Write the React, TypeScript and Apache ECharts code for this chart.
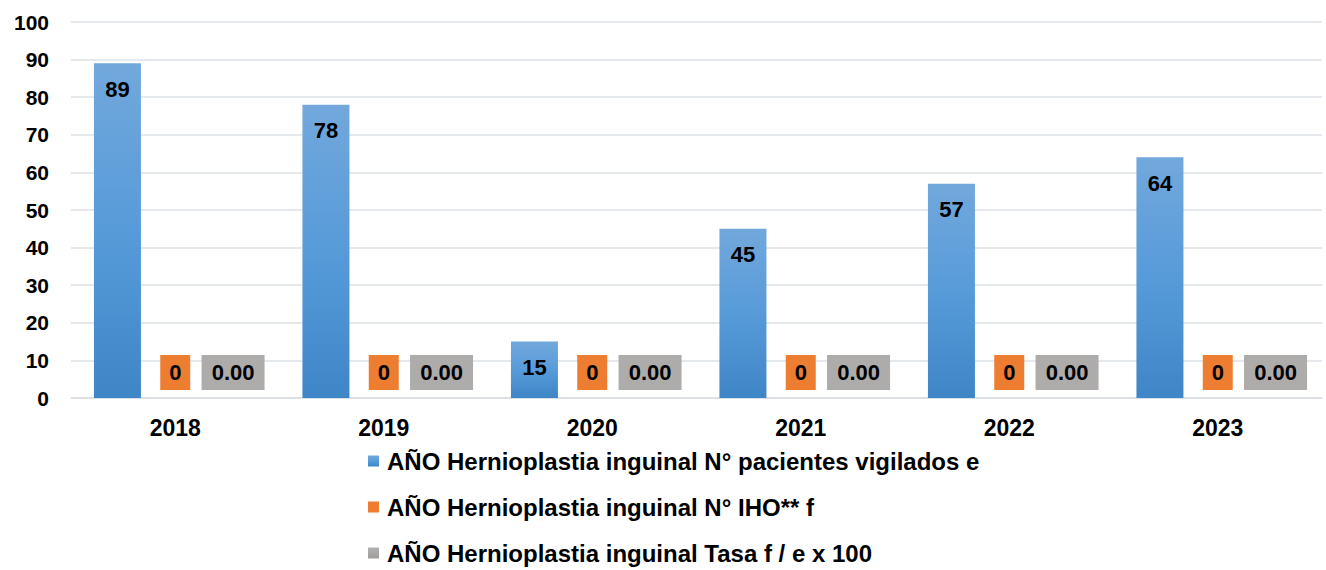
import React, { useEffect, useRef } from "react";
import * as echarts from "echarts";

const categories = ["2018", "2019", "2020", "2021", "2022", "2023"];
const pacientesVigilados = [89, 78, 15, 45, 57, 64];
const numeroIHO = [0, 0, 0, 0, 0, 0];
const tasa = [0, 0, 0, 0, 0, 0];
const seriesNames = [
  "AÑO Hernioplastia inguinal N° pacientes vigilados e",
  "AÑO Hernioplastia inguinal N° IHO** f",
  "AÑO Hernioplastia inguinal Tasa f / e x 100",
];

const FONT = "'Liberation Sans', Arial, sans-serif";

export default function App() {
  const ref = useRef<HTMLDivElement>(null);
  useEffect(() => {
    if (!ref.current) return;
    const chart = echarts.init(ref.current, null, { renderer: "svg" });
    const blue = new echarts.graphic.LinearGradient(0, 0, 0, 1, [
      { offset: 0, color: "#72a8dc" },
      { offset: 0.5, color: "#579bd9" },
      { offset: 1, color: "#3f86c7" },
    ]);
    const grayGrad = new echarts.graphic.LinearGradient(0, 0, 0, 1, [
      { offset: 0, color: "#b4b1b1" },
      { offset: 1, color: "#9e9b9b" },
    ]);
    chart.setOption({
      animation: false,
      textStyle: { fontFamily: FONT },
      grid: { left: 71, right: 4, top: 22, bottom: 172 },
      legend: {
        orient: "vertical",
        left: 368,
        top: 449,
        padding: 0,
        itemWidth: 11,
        itemHeight: 11,
        itemGap: 22,
        icon: "rect",
        textStyle: {
          fontFamily: FONT,
          fontWeight: "bold",
          fontSize: 24,
          color: "#000",
          lineHeight: 24,
          padding: [0, 0, 0, 3],
        },
        data: seriesNames,
      },
      xAxis: {
        type: "category",
        data: categories,
        axisLine: { lineStyle: { color: "#d9dde3", width: 1.5 } },
        axisTick: { show: false },
        axisLabel: { fontFamily: FONT, fontWeight: "bold", fontSize: 23, color: "#000", margin: 18 },
      },
      yAxis: {
        type: "value",
        min: 0,
        max: 100,
        interval: 10,
        axisLine: { show: false },
        axisTick: { show: false },
        splitLine: { lineStyle: { color: "#dde1e7", width: 1.5 } },
        axisLabel: { fontFamily: FONT, fontWeight: "bold", fontSize: 21, color: "#000", margin: 22 },
      },
      series: [
        {
          name: seriesNames[0],
          type: "bar",
          data: pacientesVigilados,
          barWidth: 47,
          barGap: "23%",
          itemStyle: { color: blue },
          label: {
            show: true,
            position: "insideTop",
            distance: 15,
            fontFamily: FONT,
            fontWeight: "bold",
            fontSize: 22,
            color: "#000",
          },
        },
        {
          name: seriesNames[1],
          type: "bar",
          data: numeroIHO,
          barWidth: 47,
          barGap: "23%",
          itemStyle: { color: "#ed7d31" },
          label: {
            show: true,
            position: "top",
            distance: 8,
            fontFamily: FONT,
            fontWeight: "bold",
            fontSize: 22,
            color: "#000",
            backgroundColor: "#ed7d31",
            width: 30,
            align: "center",
            lineHeight: 23,
            padding: [6, 0],
            formatter: (p: any) => String(p.value),
          },
        },
        {
          name: seriesNames[2],
          type: "bar",
          data: tasa,
          barWidth: 47,
          barGap: "23%",
          itemStyle: { color: grayGrad },
          label: {
            show: true,
            position: "top",
            distance: 8,
            fontFamily: FONT,
            fontWeight: "bold",
            fontSize: 22,
            color: "#000",
            backgroundColor: "#aeabab",
            width: 63,
            align: "center",
            lineHeight: 23,
            padding: [6, 0],
            formatter: (p: any) => Number(p.value).toFixed(2),
          },
        },
      ],
    });
    return () => chart.dispose();
  }, []);
  return (
    <div
      ref={ref}
      style={{ position: "fixed", left: 0, top: 0, width: 1326, height: 570, background: "#fff" }}
    />
  );
}
